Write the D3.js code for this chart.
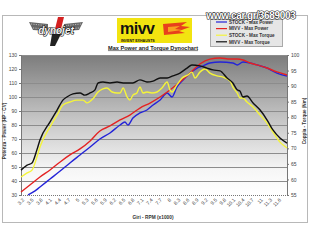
<!doctype html>
<html>
  <head>
    <script src="https://cdnjs.cloudflare.com/ajax/libs/d3/7.8.5/d3.min.js"></script>
    <style>
      body { margin: 0; background: #fff; }
      text { font-family: "Liberation Sans", Arial, sans-serif; }
    </style>
  </head>
  <body>
    <svg id="chart" width="310" height="240"></svg>
    <script>
      // rpm (x1000) / value pairs
      var stockPowerRpm = [3.43,3.66,3.82,4.15,4.48,4.80,5.13,5.46,5.78,6.11,6.44,6.60,6.70,6.86,7.09,7.32,7.52,7.75,7.98,8.14,8.30,8.50,8.73,8.96,9.15,9.38,9.71,10.13,10.27,10.46,10.69,10.92,11.25,11.57,11.90];
      var stockPower    = [30.0,32.9,35.7,41.4,47.1,52.9,58.6,64.3,70.0,74.3,80.0,82.1,80.0,85.0,88.6,90.7,94.3,97.9,102.9,100.0,107.1,112.1,117.1,120.7,122.1,124.3,125.0,124.3,122.9,125.0,124.3,122.9,120.7,117.1,115.0];

      var mivvPowerRpm = [3.20,3.49,3.82,4.15,4.48,4.80,5.13,5.46,5.78,6.11,6.44,6.76,7.09,7.42,7.75,8.07,8.40,8.73,9.05,9.38,9.71,10.04,10.27,10.46,10.69,10.92,11.25,11.57,11.90];
      var mivvPower    = [32.1,37.1,42.9,47.9,53.6,58.6,62.9,68.6,75.7,79.3,83.6,87.1,92.1,95.7,100.0,105.0,110.7,117.1,123.6,127.1,127.9,127.1,127.1,126.4,124.3,122.9,120.7,117.9,115.7];

      var stockTorqueRpm = [3.20,3.40,3.56,3.72,3.82,4.15,4.38,4.57,4.80,5.03,5.23,5.36,5.55,5.72,5.88,6.01,6.18,6.34,6.44,6.54,6.67,6.76,6.86,6.99,7.09,7.19,7.32,7.48,7.65,7.81,7.98,8.07,8.14,8.30,8.47,8.66,8.79,8.89,9.05,9.22,9.38,9.61,9.81,10.04,10.13,10.27,10.36,10.46,10.59,10.79,11.02,11.25,11.44,11.67,11.90];
      var stockTorque    = [60.8,62.1,63.0,67.2,70.4,76.9,80.7,83.9,84.9,85.5,85.5,84.6,85.9,88.1,89.1,89.4,88.1,87.8,87.8,89.4,86.5,85.5,87.1,87.8,89.7,87.8,88.1,87.8,88.1,89.4,91.3,88.8,88.1,90.4,92.6,93.6,94.5,92.6,94.5,95.5,94.2,93.3,92.9,91.6,89.7,87.8,86.2,86.2,84.9,83.3,80.7,78.1,75.2,72.0,70.1];

      var mivvTorqueRpm = [3.20,3.40,3.56,3.72,3.82,4.15,4.38,4.57,4.70,4.90,5.13,5.29,5.46,5.62,5.72,5.88,6.11,6.34,6.54,6.86,7.09,7.32,7.52,7.75,7.98,8.17,8.40,8.63,8.79,9.05,9.28,9.48,9.71,9.94,10.13,10.27,10.36,10.46,10.59,10.79,11.02,11.25,11.44,11.67,11.90];
      var mivvTorque    = [63.0,64.6,65.3,69.5,72.7,78.5,82.3,85.5,86.5,87.5,87.8,87.1,87.8,88.8,91.0,91.3,91.0,91.3,91.0,91.0,92.0,91.3,91.6,92.6,92.6,93.3,94.2,95.8,96.8,96.5,95.8,95.2,94.9,92.6,91.0,88.8,88.4,86.5,86.8,84.6,82.3,79.1,75.9,73.3,71.7];

      var rpmTicks = [3.2,3.5,3.8,4.1,4.4,4.7,5,5.3,5.6,5.9,6.2,6.5,6.8,7.1,7.4,7.7,8,8.3,8.6,8.9,9.2,9.5,9.8,10.1,10.4,10.7,11,11.3,11.6];
      var powerTicks = [30,40,50,60,70,80,90,100,110,120,130];
      var torqueTicks = [55,60,65,70,75,80,85,90,95,100];

      var legendNames = ["STOCK - Max Power","MIVV - Max Power","STOCK - Max Torque","MIVV - Max Torque"];
      var legendColors = ["#2424d8","#e42222","#f4f43a","#111111"];

      var svg = d3.select("#chart");
      var pL = 21, pR = 287, pT = 55, pB = 195;

      var x = d3.scaleLinear().domain([3.2, 11.9]).range([pL, pR]);
      var yP = d3.scaleLinear().domain([30, 130]).range([pB, pT]);
      var yT = d3.scaleLinear().domain([55, 100]).range([pB, pT]);

      // outer frame
      svg.append("rect")
        .attr("x", 2.5).attr("y", 15.5).attr("width", 305).attr("height", 207)
        .style("fill", "#fff").style("stroke", "#b8b8b8");

      // plot background gradient
      var grad = svg.append("defs").append("linearGradient")
        .attr("id", "bg").attr("x1", 0).attr("y1", 0).attr("x2", 0).attr("y2", 1);
      grad.append("stop").attr("offset", "0%").attr("stop-color", "#7c7c7c");
      grad.append("stop").attr("offset", "45%").attr("stop-color", "#c4c4c4");
      grad.append("stop").attr("offset", "82%").attr("stop-color", "#f6f6f6");
      grad.append("stop").attr("offset", "100%").attr("stop-color", "#ffffff");

      svg.append("rect")
        .attr("x", pL).attr("y", pT).attr("width", pR - pL).attr("height", pB - pT)
        .style("fill", "url(#bg)");

      // gridlines
      svg.append("g").selectAll("line").data(powerTicks.slice(1))
        .enter().append("line")
          .attr("x1", pL).attr("x2", pR)
          .attr("y1", d => Math.round(yP(d)) + 0.5).attr("y2", d => Math.round(yP(d)) + 0.5)
          .style("stroke", "#8c8c8c").style("stroke-width", 1);

      // axes
      var axL = svg.append("g").attr("transform", "translate(" + pL + ",0)")
        .call(d3.axisLeft(yP).tickValues(powerTicks).tickSize(2).tickPadding(2));
      var axR = svg.append("g").attr("transform", "translate(" + pR + ",0)")
        .call(d3.axisRight(yT).tickValues(torqueTicks).tickSize(2).tickPadding(2));
      [axL, axR].forEach(function(a) {
        a.selectAll("path, line").style("stroke", "#777");
        a.selectAll("text").style("font-size", "5px").style("fill", "#444");
      });

      svg.append("line")
        .attr("x1", pL).attr("x2", pR).attr("y1", pB + 0.5).attr("y2", pB + 0.5)
        .style("stroke", "#777").style("stroke-dasharray", "1,1");

      var axB = svg.append("g").attr("transform", "translate(0," + pB + ")")
        .call(d3.axisBottom(x).tickValues(rpmTicks).tickSize(0).tickFormat(d3.format("")));
      axB.select(".domain").remove();
      axB.selectAll("text")
        .style("font-size", "5px").style("fill", "#444")
        .attr("text-anchor", "end")
        .attr("dy", "0.35em")
        .attr("transform", "translate(2,4) rotate(-45)")
        .attr("y", 0).attr("x", 0);

      // axis titles
      svg.append("text").text("Potenza - Power (HP - CV)")
        .attr("transform", "translate(6,131) rotate(-90)")
        .attr("text-anchor", "middle").style("font-size", "4.6px").style("font-weight", "bold").style("fill", "#333");
      svg.append("text").text("Coppia - Torque (Nm)")
        .attr("transform", "translate(306,121) rotate(-90)")
        .attr("text-anchor", "middle").style("font-size", "4.6px").style("font-weight", "bold").style("fill", "#333");
      svg.append("text").text("Giri - RPM (x1000)")
        .attr("x", 153).attr("y", 219)
        .attr("text-anchor", "middle").style("font-size", "4.8px").style("font-weight", "bold").style("fill", "#333");

      // curves
      var series = [
        {rpm: stockPowerRpm, v: stockPower, y: yP, c: legendColors[0]},
        {rpm: mivvPowerRpm, v: mivvPower, y: yP, c: legendColors[1]},
        {rpm: stockTorqueRpm, v: stockTorque, y: yT, c: legendColors[2]},
        {rpm: mivvTorqueRpm, v: mivvTorque, y: yT, c: legendColors[3]}
      ];
      series.forEach(function(s) {
        var line = d3.line()
          .x((d, i) => x(s.rpm[i]))
          .y(d => s.y(d))
          .curve(d3.curveMonotoneX);
        svg.append("path").datum(s.v)
          .attr("d", line)
          .style("fill", "none").style("stroke", s.c).style("stroke-width", 1.4);
      });

      // title
      svg.append("text").text("Max Power and Torque Dynochart")
        .attr("x", 153).attr("y", 49.5).attr("text-anchor", "middle")
        .style("font-size", "5.6px").style("font-weight", "bold").style("fill", "#222")
        .style("text-decoration", "underline");

      // mivv logo
      var logo = svg.append("g");
      logo.append("rect").attr("x", 117).attr("y", 18).attr("width", 75).attr("height", 25).style("fill", "#f2e410");
      logo.append("text").text("mivv").attr("x", 120).attr("y", 34)
        .style("font-size", "16px").style("font-weight", "bold").style("fill", "#111").style("letter-spacing", "-0.5px");
      logo.append("path").attr("d", "M163,24 L187,22 L181,26 L190,27 L179,31 L185,33 L164,35 Z")
        .style("fill", "#e8401c");
      logo.append("path").attr("d", "M168,27 L180,26 L175,29 L182,30 L168,32 Z").style("fill", "#f8a020");
      logo.append("text").text("INVENT EXHAUSTS").attr("x", 121).attr("y", 41.6)
        .style("font-size", "3.6px").style("font-weight", "bold").style("fill", "#111");

      // dynojet logo
      var dj = svg.append("g");
      dj.append("path").attr("d", "M29,22 L48,24 L48,31 L33,30 Z M83,22 L64,24 L64,31 L79,30 Z").style("fill", "#666");
      dj.append("path").attr("d", "M31,24 L46,25.5 M33,28 L46,29 M81,24 L66,25.5 M79,28 L66,29")
        .style("stroke", "#ddd").style("stroke-width", 0.7).style("stroke-dasharray", "1.2,1.2");
      dj.append("path").attr("d", "M58,17 L64,17 L61,29 L55,29 Z").style("fill", "#d42020");
      dj.append("path").attr("d", "M52,34 L61,34 L55,46 L50,46 Z").style("fill", "#222");
      dj.append("text").text("dynojet").attr("x", 56).attr("y", 34).attr("text-anchor", "middle")
        .style("font-size", "10px").style("font-weight", "bold").style("font-style", "italic")
        .style("fill", "#f4f4f4").style("stroke", "#111").style("stroke-width", 1.2)
        .style("paint-order", "stroke");

      // legend
      var lg = svg.append("g");
      lg.append("rect").attr("x", 210.5).attr("y", 19.5).attr("width", 72).attr("height", 27)
        .style("fill", "#e6e6e6").style("stroke", "#aaa");
      var rows = lg.selectAll("g.row").data(legendNames).enter().append("g")
        .attr("transform", (d, i) => "translate(0," + (22 + i * 6.6) + ")");
      rows.append("line").attr("x1", 216).attr("x2", 227).attr("y1", 0).attr("y2", 0)
        .style("stroke", (d, i) => legendColors[i]).style("stroke-width", 1.2);
      rows.append("text").text(d => d).attr("x", 229).attr("y", 1.7)
        .style("font-size", "4.6px").style("font-weight", "bold").style("fill", "#333");

      // watermark
      svg.append("text").text("www.car.gr/3689003")
        .attr("x", 251).attr("y", 18.5).attr("text-anchor", "middle")
        .style("font-size", "10px").style("font-weight", "bold").style("letter-spacing", "-0.3px")
        .style("fill", "#fff").style("stroke", "#111").style("stroke-width", 1.1)
        .style("paint-order", "stroke");
    </script>
  </body>
</html>
